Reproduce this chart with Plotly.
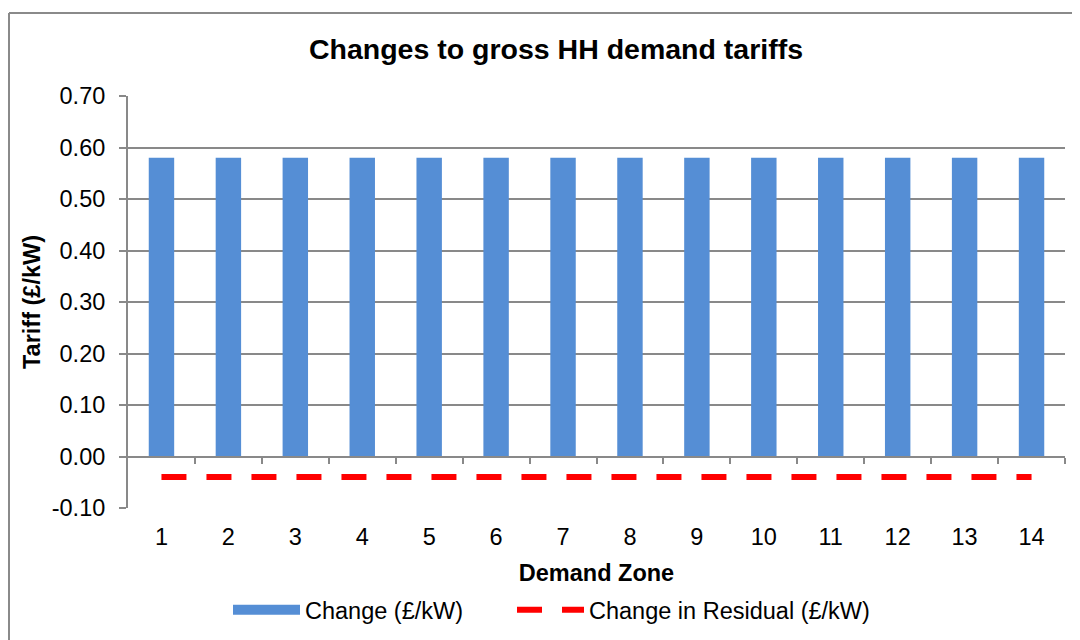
import plotly.graph_objects as go

zones = list(range(1, 15))
change = [0.58] * 14
residual = [-0.04] * 14
yticks = [-0.10, 0.00, 0.10, 0.20, 0.30, 0.40, 0.50, 0.60, 0.70]

BLUE = "#558ED5"
RED = "#FF0000"
GRID = "#898989"
FONT = "Liberation Sans, Arial, sans-serif"
FS = 23.5

fig = go.Figure()
fig.add_trace(go.Bar(x=zones, y=change, marker=dict(color=BLUE, line=dict(width=0)),
                     showlegend=False, name="Change (£/kW)"))
# legend proxy for the bar series
fig.add_trace(go.Scatter(x=[None], y=[None], mode="lines", name="Change (£/kW)",
                         line=dict(color=BLUE, width=11), legend="legend"))
fig.add_trace(go.Scatter(x=zones, y=residual, mode="lines", name="Change in Residual (£/kW)",
                         xaxis="x2", line=dict(color=RED, width=6, dash="25px,20px"),
                         legend="legend2"))

L, R, T, B = 120, 23, 88, 140
W, H = 1080, 640
pw, ph = W - L - R, H - T - B
leg_y = -(602 - (H - B)) / ph

fig.update_layout(
    width=W, height=H,
    margin=dict(l=L, r=R, t=T, b=B, autoexpand=False),
    paper_bgcolor="white", plot_bgcolor="white",
    font=dict(family=FONT, size=FS, color="#000"),
    bargap=0.62,
    title=dict(text="<b>Changes to gross HH demand tariffs</b>", x=548 / W, xanchor="center",
               y=1 - 41 / H, yanchor="middle", font=dict(size=28.5)),
    xaxis=dict(range=[0.5, 14.5], tickmode="array", tickvals=zones,
               ticktext=[str(z) for z in zones], showgrid=False, showline=False,
               zeroline=False, ticks="", ticklabelstandoff=12,
               title=dict(text="<b>Demand Zone</b>", font=dict(size=FS), standoff=16)),
    xaxis2=dict(overlaying="x", anchor="free", position=0.125, range=[0.5, 14.5],
                tickmode="array", tickvals=[z + 0.5 for z in zones], showticklabels=False,
                ticks="outside", ticklen=6, tickcolor=GRID, tickwidth=2,
                showline=True, linecolor=GRID, linewidth=2, showgrid=False, zeroline=False),
    yaxis=dict(range=[-0.10, 0.70], tickmode="array", tickvals=yticks,
               ticktext=[f"{v:.2f}" for v in yticks], showgrid=True, gridcolor=GRID,
               gridwidth=2, zeroline=False, showline=True, linecolor=GRID, linewidth=2,
               ticks="outside", ticklen=7, tickcolor=GRID, tickwidth=2,
               ticklabelstandoff=9,
               title=dict(text="<b>Tariff (£/kW)</b>", font=dict(size=FS), standoff=4)),
    legend=dict(orientation="h", x=(220 - L) / pw, xanchor="left",
                y=leg_y, yanchor="middle", font=dict(size=FS), itemwidth=67),
    legend2=dict(orientation="h", x=(504 - L) / pw, xanchor="left",
                 y=leg_y, yanchor="middle", font=dict(size=FS), itemwidth=67),
)

# outer chart border (top and left visible)
bx = (1 - L) / pw
by = (H - B - 5) / ph
fig.add_shape(type="line", xref="paper", yref="paper", x0=bx, x1=(W + 20 - L) / pw,
              y0=by, y1=by, line=dict(color="#8A8A8A", width=2))
fig.add_shape(type="line", xref="paper", yref="paper", x0=bx, x1=bx,
              y0=by, y1=-(B + 20) / ph, line=dict(color="#8A8A8A", width=2))

fig.write_html("out.html")
